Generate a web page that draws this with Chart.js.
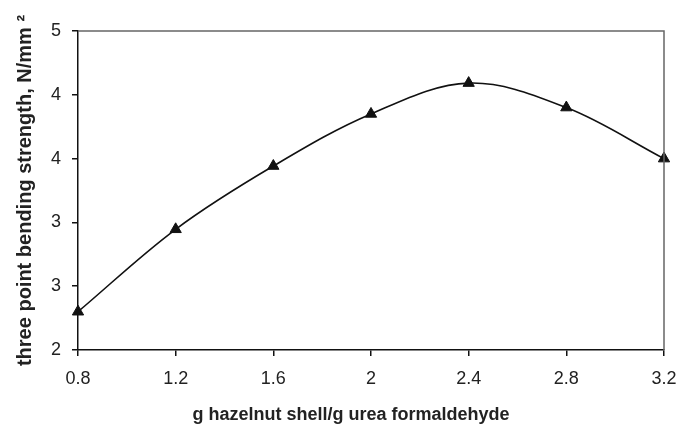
<!DOCTYPE html>
<html>
<head>
<meta charset="utf-8">
<script src="https://cdn.jsdelivr.net/npm/chart.js@4"></script>
<style>
html,body{margin:0;padding:0;background:#fff;}
#wrap{width:681px;height:426px;position:relative;}
</style>
</head>
<body>
<div id="wrap"><canvas id="c" width="681" height="426"></canvas></div>
<script>
const xValues = [0.8, 1.2, 1.6, 2.0, 2.4, 2.8, 3.2];
const strength = [2.36, 3.135, 3.73, 4.22, 4.51, 4.28, 3.80];
const xTickLabels = ['0.8', '1.2', '1.6', '2', '2.4', '2.8', '3.2'];
const yTickValues = [2, 2.6, 3.2, 3.8, 4.4, 5];
const yTickLabels = ['2', '3', '3', '4', '4', '5'];
const xTitle = 'g hazelnut shell/g urea formaldehyde';
const yTitle = 'three point bending strength, N/mm \u00B2';

const FONT = 'Liberation Sans, Arial, sans-serif';

const boxPlugin = {
  id: 'box',
  afterDraw(chart) {
    const a = chart.chartArea, ctx = chart.ctx;
    ctx.save();
    ctx.strokeStyle = '#666';
    ctx.lineWidth = 1.5;
    ctx.beginPath();
    ctx.moveTo(a.left, a.top);
    ctx.lineTo(a.right, a.top);
    ctx.lineTo(a.right, a.bottom);
    ctx.stroke();
    ctx.restore();
  }
};

new Chart(document.getElementById('c'), {
  type: 'line',
  data: {
    datasets: [{
      data: xValues.map((x, i) => ({x: x, y: strength[i]})),
      borderColor: '#111',
      backgroundColor: '#111',
      borderWidth: 1.6,
      tension: 0.35,
      pointStyle: 'triangle',
      pointRadius: 6.5,
      pointBorderWidth: 1,
      pointBackgroundColor: '#111',
      pointBorderColor: '#111',
      fill: false,
      clip: false
    }]
  },
  options: {
    responsive: false,
    animation: false,
    layout: {autoPadding: false, padding: {top: 31, right: 17, bottom: 0, left: 0}},
    plugins: {legend: {display: false}, tooltip: {enabled: false}},
    scales: {
      x: {
        type: 'linear',
        min: 0.8, max: 3.2,
        ticks: {
          stepSize: 0.4,
          color: '#222',
          font: {family: FONT, size: 18},
          padding: 12,
          maxRotation: 0,
          callback: (v, i) => xTickLabels[i]
        },
        grid: {drawOnChartArea: false, drawTicks: true, tickLength: 6, color: '#111', lineWidth: 1.5},
        border: {color: '#111', width: 1.5},
        title: {
          display: true, text: xTitle + '\u00A0'.repeat(8), color: '#222',
          font: {family: FONT, size: 18, weight: 'bold'},
          padding: {top: 10, bottom: 0}
        },
        afterFit: (s) => { s.height = 76; s.paddingRight = 0; s.paddingLeft = 0; }
      },
      y: {
        min: 2, max: 5,
        afterBuildTicks: (s) => { s.ticks = yTickValues.map(v => ({value: v})); },
        ticks: {
          color: '#222',
          font: {family: FONT, size: 18},
          padding: 11,
          callback: (v, i) => yTickLabels[i]
        },
        grid: {drawOnChartArea: false, drawTicks: true, tickLength: 6, color: '#111', lineWidth: 1.5},
        border: {color: '#111', width: 1.5},
        title: {
          display: true, text: yTitle, color: '#222',
          font: {family: FONT, size: 20, weight: 'bold'},
          padding: {top: 13, bottom: 10}
        },
        afterFit: (s) => { s.width = 78; s.paddingTop = 0; s.paddingBottom = 0; }
      }
    }
  },
  plugins: [boxPlugin]
});
</script>
</body>
</html>
